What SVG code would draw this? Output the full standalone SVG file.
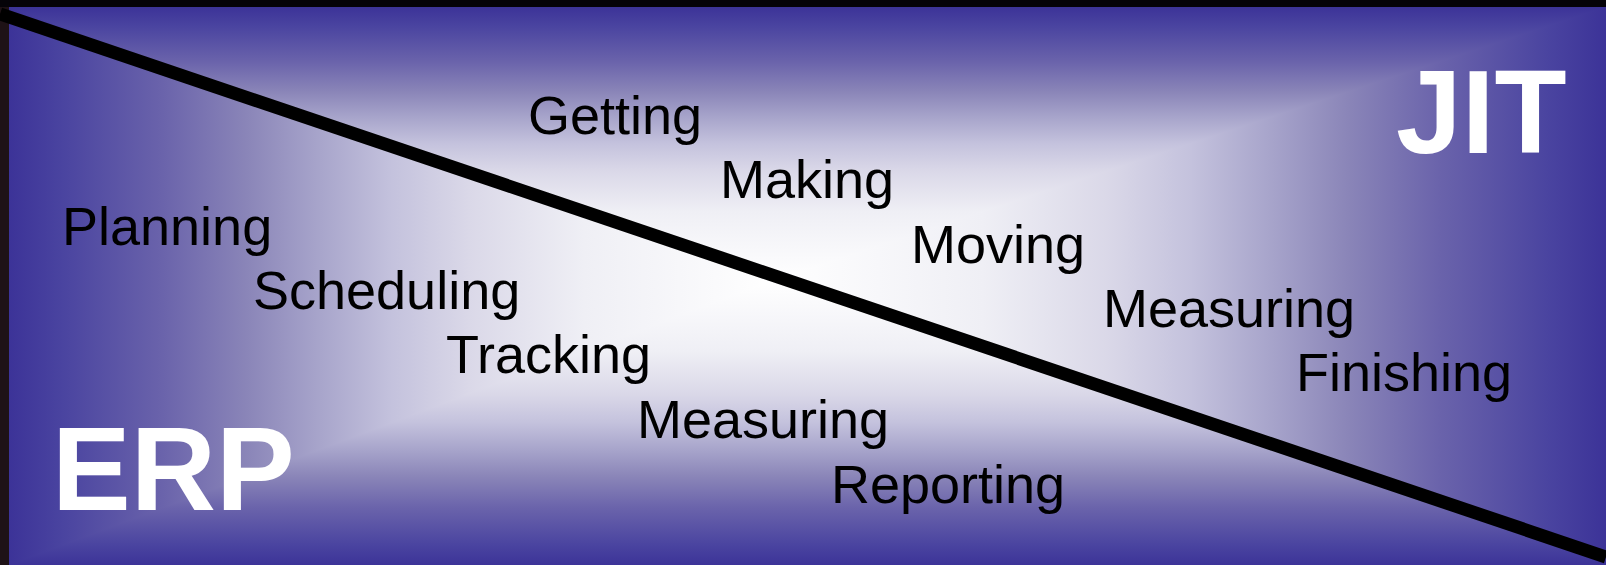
<svg xmlns="http://www.w3.org/2000/svg" width="1606" height="565" viewBox="0 0 1606 565">
<defs>
<linearGradient id="gH" gradientUnits="userSpaceOnUse" x1="9" y1="0" x2="1606" y2="0">
<stop offset="0" stop-color="#3C3398"/><stop offset="0.0336" stop-color="#4A44A0"/><stop offset="0.0959" stop-color="#6A63AB"/><stop offset="0.1487" stop-color="#8A85B8"/><stop offset="0.1919" stop-color="#A6A3CA"/><stop offset="0.2399" stop-color="#C4C2DD"/><stop offset="0.2878" stop-color="#DAD8E8"/><stop offset="0.3598" stop-color="#EFEFF5"/><stop offset="0.4797" stop-color="#FFFFFF"/>
<stop offset="0.6098" stop-color="#EFEFF5"/><stop offset="0.6878" stop-color="#DAD8E8"/><stop offset="0.7399" stop-color="#C4C2DD"/><stop offset="0.7919" stop-color="#A6A3CA"/><stop offset="0.8387" stop-color="#8A85B8"/><stop offset="0.8959" stop-color="#6A63AB"/><stop offset="0.9636" stop-color="#4A44A0"/><stop offset="1" stop-color="#3C3398"/>
</linearGradient>
<linearGradient id="gTop" gradientUnits="userSpaceOnUse" x1="0" y1="7" x2="0" y2="280">
<stop offset="0" stop-color="#3C3398"/><stop offset="0.07" stop-color="#4A44A0"/><stop offset="0.20" stop-color="#6A63AB"/><stop offset="0.31" stop-color="#8A85B8"/><stop offset="0.40" stop-color="#A6A3CA"/><stop offset="0.50" stop-color="#C4C2DD"/><stop offset="0.60" stop-color="#DAD8E8"/><stop offset="0.75" stop-color="#EFEFF5"/><stop offset="1" stop-color="#FFFFFF"/>
</linearGradient>
<linearGradient id="gBot" gradientUnits="userSpaceOnUse" x1="0" y1="565" x2="0" y2="280">
<stop offset="0" stop-color="#3C3398"/><stop offset="0.07" stop-color="#4A44A0"/><stop offset="0.20" stop-color="#6A63AB"/><stop offset="0.31" stop-color="#8A85B8"/><stop offset="0.40" stop-color="#A6A3CA"/><stop offset="0.50" stop-color="#C4C2DD"/><stop offset="0.60" stop-color="#DAD8E8"/><stop offset="0.75" stop-color="#EFEFF5"/><stop offset="1" stop-color="#FFFFFF"/>
</linearGradient>
<style>
.lbl{font-family:"Liberation Sans",Arial,sans-serif;font-size:54px;fill:#000}
.big{font-family:"Liberation Sans",Arial,sans-serif;font-size:118px;font-weight:bold;fill:#FFFFFF}
</style>
</defs>
<g id="background">
<rect x="0" y="0" width="1606" height="565" fill="#050308"/>
<rect x="0" y="7" width="9" height="558" fill="#1E1216"/>
<rect x="9" y="7" width="1597" height="558" fill="url(#gH)"/>
<polygon points="9,7 1606,7 775,280" fill="url(#gTop)"/>
<polygon points="9,565 1606,565 775,280" fill="url(#gBot)"/>
</g>
<g id="connectors">
<line x1="0" y1="14" x2="1606" y2="557" stroke="#000" stroke-width="13"/>
</g>
<g id="erp-labels">
<text class="lbl" x="62" y="245">Planning</text>
<text class="lbl" x="253" y="309">Scheduling</text>
<text class="lbl" x="446" y="373">Tracking</text>
<text class="lbl" x="637" y="438">Measuring</text>
<text class="lbl" x="831" y="503">Reporting</text>
</g>
<g id="jit-labels">
<text class="lbl" x="528" y="134">Getting</text>
<text class="lbl" x="720" y="198">Making</text>
<text class="lbl" x="911" y="263">Moving</text>
<text class="lbl" x="1103" y="327">Measuring</text>
<text class="lbl" x="1296" y="391">Finishing</text>
</g>
<g id="erp"><text class="big" x="52" y="510">ERP</text></g>
<g id="jit"><text class="big" x="1396" y="153">JIT</text></g>
</svg>
